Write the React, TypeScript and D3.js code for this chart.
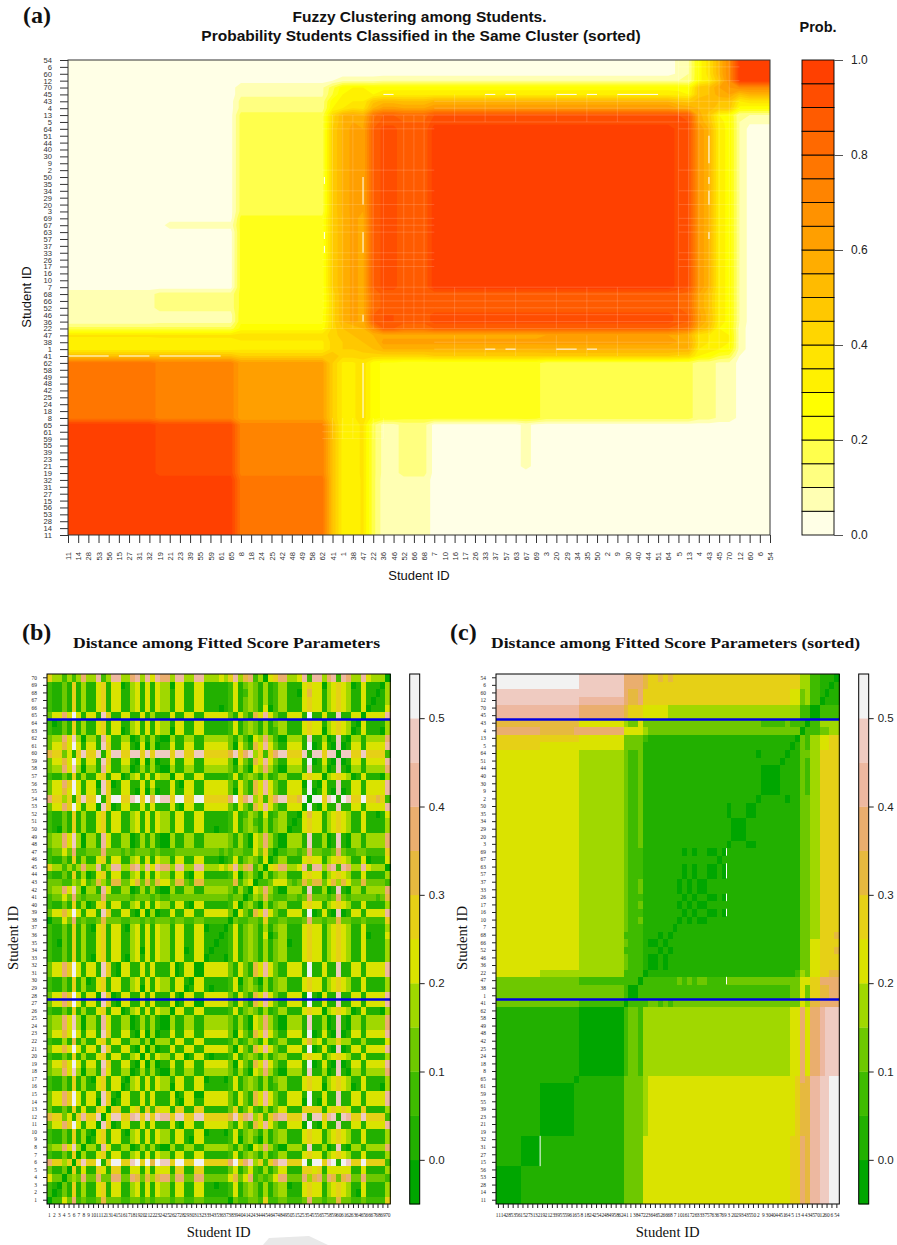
import React, { useRef, useEffect } from "react";
import * as d3 from "d3";

// students in the sorted order used by panels (a) and (c), bottom/left first
const sortedIds = [
  11, 14, 28, 53, 56, 15, 27, 31, 32, 19, 21, 23, 39, 55, 59, 61, 65, 8, 18, 24, 25, 42, 48, 49, 58, 62, 41, 1, 38, 47,
  22, 36, 46, 52, 66, 68, 7, 10, 16, 17, 26, 33, 37, 57, 63, 67, 69, 3, 20, 29, 34, 35, 50, 2, 9, 30, 40, 44, 51, 64,
  5, 13, 4, 43, 45, 70, 12, 60, 6, 54,
];

// panel (a): students with the same profile, as run lengths along sortedIds
const probBandSizes = [9, 8, 9, 1, 1, 1, 1, 1, 2, 3, 11, 13, 1, 1, 1, 1, 1, 1, 1, 3];
// probability of the same cluster, lower triangle of the band table
const probBands = [
  [0.99],
  [0.98, 0.93],
  [0.78, 0.73, 0.62],
  [0.5, 0.5, 0.45, 0.5],
  [0.33, 0.33, 0.34, 0.42, 0.45],
  [0.32, 0.33, 0.34, 0.42, 0.45, 0.48],
  [0.36, 0.36, 0.38, 0.42, 0.48, 0.5, 0.5],
  [0.17, 0.17, 0.27, 0.42, 0.5, 0.5, 0.55, 0.7],
  [0.07, 0.08, 0.24, 0.42, 0.55, 0.62, 0.58, 0.85, 0.9],
  [0.08, 0.12, 0.22, 0.42, 0.55, 0.62, 0.58, 0.8, 0.87, 0.85],
  [0.03, 0.03, 0.22, 0.45, 0.55, 0.62, 0.58, 0.85, 0.92, 0.86, 0.98],
  [0.03, 0.03, 0.17, 0.45, 0.56, 0.62, 0.6, 0.85, 0.92, 0.86, 0.98, 0.98],
  [0.03, 0.03, 0.17, 0.43, 0.55, 0.6, 0.58, 0.8, 0.88, 0.85, 0.93, 0.93, 0.93],
  [0.03, 0.03, 0.17, 0.42, 0.55, 0.58, 0.55, 0.78, 0.85, 0.82, 0.9, 0.9, 0.9, 0.88],
  [0.03, 0.03, 0.12, 0.3, 0.35, 0.4, 0.38, 0.55, 0.62, 0.6, 0.65, 0.65, 0.6, 0.58, 0.55],
  [0.03, 0.03, 0.12, 0.28, 0.32, 0.35, 0.35, 0.48, 0.52, 0.5, 0.55, 0.55, 0.5, 0.48, 0.52, 0.52],
  [0.02, 0.02, 0.09, 0.2, 0.3, 0.32, 0.32, 0.3, 0.33, 0.33, 0.33, 0.33, 0.32, 0.3, 0.48, 0.5, 0.58],
  [0.02, 0.02, 0.09, 0.18, 0.28, 0.3, 0.3, 0.28, 0.28, 0.28, 0.28, 0.28, 0.28, 0.27, 0.48, 0.5, 0.6, 0.65],
  [0.02, 0.02, 0.03, 0.05, 0.08, 0.08, 0.08, 0.08, 0.1, 0.1, 0.1, 0.1, 0.1, 0.1, 0.28, 0.35, 0.5, 0.7, 0.98],
  [0.02, 0.02, 0.02, 0.03, 0.03, 0.03, 0.03, 0.03, 0.03, 0.03, 0.03, 0.03, 0.06, 0.1, 0.27, 0.38, 0.55, 0.7, 0.98, 0.99],
];
// the odd pale patch at student 67 against students 21..65
const probPatch = { student: 67, others: [21, 23, 39, 55, 59, 61, 65], value: 0.07 };
// gaps in the contour fill: [row, from column, to column] and [column, from row, to row]
const gapRows = [
  [26, 0, 4], [26, 5, 8], [26, 9, 15],
  [64, 31, 32], [64, 41, 42], [64, 43, 44], [64, 48, 50], [64, 51, 52], [64, 54, 58],
  [27, 41, 42], [27, 43, 44], [27, 48, 50], [27, 51, 52],
];
const gapCols = [
  [25.2, 51, 52], [25.2, 43, 44], [25.2, 41, 42],
  [29, 48, 52], [29, 41, 44], [29, 31, 32], [29, 17, 25],
  [63, 54, 58], [63, 51, 52], [63, 48, 50], [63, 43, 44],
];
// faint seams: [from column, to column, from row, to row]
const seamBlocks = [
  [25, 36, 30, 61], [60, 66, 27, 69], [36, 60, 30, 36], [36, 60, 60, 64], [25, 31, 14, 17], [36, 60, 26, 29],
];
const seamRows = [14, 15, 16, 27, 28, 30, 31, 32, 33, 34, 35, 36, 39, 40, 41, 44, 45, 46, 48, 50, 53, 59, 60, 61, 62, 63, 66, 68];
const seamCols = [26, 27, 28, 30, 31, 33, 34, 35, 38, 41, 44, 48, 51, 54, 60, 61, 62, 63, 64, 65];

const probLevels = d3.range(0, 21).map((d) => d / 20);
const probTicks = [0, 0.2, 0.4, 0.6, 0.8, 1];
const probColors = [
  "#ffffe6", "#ffffb3", "#ffff80", "#ffff4c", "#ffff19", "#ffff00", "#fff100", "#ffe400", "#ffd600", "#ffc800",
  "#ffbb00", "#ffad00", "#ff9f00", "#ff9200", "#ff8400", "#ff7600", "#ff6900", "#ff5b00", "#ff4d00", "#ff4000",
];

// panels (b) and (c): distance between fitted score parameters
const distBandSizes = [5, 4, 7, 1, 9, 1, 2, 1, 1, 5, 11, 13, 1, 1, 1, 1, 2, 1, 1, 2];
const distBands = [
  [0.03],
  [0.03, 0.03],
  [0.03, 0.03, 0.03],
  [0.03, 0.03, 0.03, 0.03],
  [0.03, 0.03, 0.03, 0.03, 0.03],
  [0.12, 0.12, 0.12, 0.12, 0.07, 0.03],
  [0.12, 0.12, 0.12, 0.12, 0.12, 0.07, 0.03],
  [0.12, 0.12, 0.12, 0.12, 0.07, 0.07, 0.07, 0.03],
  [0.22, 0.22, 0.18, 0.18, 0.18, 0.07, 0.07, 0.07, 0.03],
  [0.22, 0.22, 0.22, 0.22, 0.18, 0.12, 0.07, 0.07, 0.03, 0.03],
  [0.22, 0.22, 0.22, 0.22, 0.18, 0.12, 0.07, 0.07, 0.03, 0.03, 0.03],
  [0.22, 0.22, 0.22, 0.22, 0.18, 0.12, 0.07, 0.12, 0.03, 0.03, 0.03, 0.03],
  [0.28, 0.28, 0.22, 0.22, 0.22, 0.12, 0.12, 0.12, 0.03, 0.03, 0.03, 0.03, 0.03],
  [0.28, 0.28, 0.28, 0.28, 0.22, 0.12, 0.12, 0.12, 0.07, 0.03, 0.03, 0.03, 0.03, 0.03],
  [0.38, 0.38, 0.32, 0.38, 0.38, 0.22, 0.22, 0.22, 0.18, 0.12, 0.12, 0.12, 0.12, 0.12, 0.03],
  [0.32, 0.32, 0.32, 0.32, 0.22, 0.18, 0.12, 0.22, 0.12, 0.12, 0.12, 0.12, 0.07, 0.07, 0.07, 0.03],
  [0.42, 0.42, 0.42, 0.42, 0.38, 0.32, 0.28, 0.28, 0.22, 0.22, 0.18, 0.18, 0.18, 0.18, 0.07, 0.07, 0.03],
  [0.48, 0.48, 0.48, 0.48, 0.42, 0.38, 0.32, 0.38, 0.28, 0.28, 0.28, 0.28, 0.22, 0.22, 0.12, 0.18, 0.07, 0.03],
  [0.48, 0.48, 0.48, 0.48, 0.48, 0.38, 0.32, 0.38, 0.28, 0.28, 0.28, 0.28, 0.22, 0.22, 0.12, 0.18, 0.07, 0.03, 0.03],
  [0.52, 0.52, 0.52, 0.52, 0.48, 0.38, 0.38, 0.38, 0.32, 0.28, 0.28, 0.28, 0.28, 0.28, 0.18, 0.18, 0.07, 0.03, 0.03, 0.03],
];
// students whose mutual distance falls below zero
const nearGroups = [
  [11, 14, 28, 53, 56], [15, 27, 31, 32], [19, 21, 23, 39, 55, 59, 61], [65], [8, 18, 24, 25, 42, 48, 49, 58, 62],
  [41], [1, 38], [47], [22], [36, 46, 66], [52, 68], [7], [10, 17, 33, 37], [16, 26, 57, 63, 69], [67],
  [3, 35, 50], [20, 29, 34], [2, 64], [9, 30, 40, 44], [51], [5], [13], [4], [43], [45, 70], [12], [60], [6], [54],
];
// single pairs that differ from their band: [student, others, value]
const distExceptions = [
  [54, [52, 68], 0.32],
  [41, [52, 68], 0.07],
  [47, [10, 17, 33, 37], 0.12],
  [43, [9, 30, 40, 44, 51], 0.07],
  [68, [45, 70], 0.18],
];
// white gaps in panel (c): [column edge, from row, to row]
const distGaps = [[9, 5, 8], [47, 46, 46], [47, 43, 44], [47, 40, 40], [47, 38, 38], [47, 29, 29]];
// rows between which the blue separators are drawn
const blueRows = [27, 64];

const distTicks = [0, 0.1, 0.2, 0.3, 0.4, 0.5];
const distLevels = d3.range(0, 13).map((d) => -0.05 + d * 0.05);
const distColors = [
  "#00a600", "#22b000", "#3fbb00", "#6ec800", "#a0d800", "#dae300",
  "#e6d016", "#e6b93f", "#eaae6e", "#edb8a0", "#efcbc1", "#f2f2f2",
];

const SANS = "'Liberation Sans', Arial, sans-serif";
const SERIF = "'Liberation Serif', serif";

const expandBands = (sizes) => sizes.flatMap((n, b) => d3.range(n).map(() => b));
const lookup = (table, a, b) => (a >= b ? table[a][b] : table[b][a]);

function buildProb() {
  const band = expandBands(probBandSizes);
  const m = sortedIds.map((_, r) => sortedIds.map((_, c) => lookup(probBands, band[r], band[c])));
  const s = sortedIds.indexOf(probPatch.student);
  probPatch.others.forEach((id) => {
    const o = sortedIds.indexOf(id);
    m[s][o] = m[o][s] = probPatch.value;
  });
  return m;
}

function buildDist() {
  const band = expandBands(distBandSizes);
  const m = sortedIds.map((_, r) => sortedIds.map((_, c) => lookup(distBands, band[r], band[c])));
  const pos = (id) => sortedIds.indexOf(id);
  nearGroups.forEach((g) => g.forEach((a) => g.forEach((b) => (m[pos(a)][pos(b)] = -0.02))));
  distExceptions.forEach(([id, others, v]) =>
    others.forEach((o) => {
      m[pos(id)][pos(o)] = m[pos(o)][pos(id)] = v;
    })
  );
  return m;
}

function styleAxis(g, size, family, color = "#222") {
  g.select(".domain").remove();
  g.selectAll("line").attr("stroke", color).attr("stroke-width", 1);
  g.selectAll("text").attr("font-size", size).attr("font-family", family).attr("fill", color);
}

function drawPanelA(svg) {
  const [x0, x1, y0, y1] = [68, 770, 535, 60];
  const gx = d3.scaleLinear().domain([0, 69]).range([x0, x1]);
  const gy = d3.scaleLinear().domain([0, 69]).range([y0, y1]);
  const matrix = buildProb();
  const flat = matrix.flat();
  const contours = d3.contours().size([70, 70]).thresholds(probLevels.slice(1, 20))(flat);
  const path = d3.geoPath(
    d3.geoTransform({
      point(x, y) {
        this.stream.point(gx(x - 0.5), gy(y - 0.5));
      },
    })
  );

  svg.append("clipPath").attr("id", "clipA").append("rect")
    .attr("x", x0).attr("y", y1).attr("width", x1 - x0).attr("height", y0 - y1);
  const plot = svg.append("g").attr("clip-path", "url(#clipA)");
  plot.append("rect").attr("x", x0).attr("y", y1).attr("width", x1 - x0).attr("height", y0 - y1).attr("fill", probColors[0]);
  plot.selectAll("path.band").data(contours).enter().append("path")
    .attr("class", "band")
    .attr("d", path)
    .attr("fill-rule", "evenodd")
    .attr("fill", (d, i) => probColors[i + 1]);

  // faint seams left by the contour polygons
  const seams = plot.append("g").attr("stroke", "#fff").attr("stroke-opacity", 0.28).attr("stroke-width", 0.6);
  seamBlocks.forEach(([c0, c1, r0, r1]) => {
    seamRows.filter((r) => r >= r0 && r <= r1).forEach((r) =>
      seams.append("line").attr("x1", gx(c0)).attr("x2", gx(c1)).attr("y1", gy(r)).attr("y2", gy(r))
    );
    seamCols.filter((c) => c >= c0 && c <= c1).forEach((c) =>
      seams.append("line").attr("x1", gx(c)).attr("x2", gx(c)).attr("y1", gy(r0)).attr("y2", gy(r1))
    );
  });
  const gaps = plot.append("g").attr("stroke", "#fff").attr("stroke-width", 1);
  gapRows.forEach(([r, c0, c1]) =>
    gaps.append("line").attr("x1", gx(c0)).attr("x2", gx(c1)).attr("y1", gy(r)).attr("y2", gy(r))
  );
  gapCols.forEach(([c, r0, r1]) =>
    gaps.append("line").attr("x1", gx(c)).attr("x2", gx(c)).attr("y1", gy(r0)).attr("y2", gy(r1))
  );

  svg.append("rect").attr("x", x0).attr("y", y1).attr("width", x1 - x0).attr("height", y0 - y1)
    .attr("fill", "none").attr("stroke", "#333").attr("stroke-width", 1);

  const px = d3.scalePoint().domain(sortedIds).range([x0, x1]);
  const py = d3.scalePoint().domain(sortedIds).range([y0, y1]);
  const ax = svg.append("g").attr("transform", `translate(0,${y0})`).call(d3.axisBottom(px).tickSize(8).tickPadding(5));
  styleAxis(ax, 7.6, SANS, "#333");
  ax.selectAll("text")
    .attr("transform", "rotate(-90)")
    .attr("text-anchor", "end")
    .attr("x", -17)
    .attr("y", 0)
    .attr("dy", "0.34em");
  const ay = svg.append("g").attr("transform", `translate(${x0},0)`).call(d3.axisLeft(py).tickSize(8).tickPadding(8));
  styleAxis(ay, 7.6, SANS, "#333");

  // colour key
  const key = d3.scaleLinear().domain([0, 1]).range([y0, y1]);
  const kx = 802;
  const kw = 32;
  svg.selectAll("rect.keyA").data(probColors).enter().append("rect")
    .attr("class", "keyA")
    .attr("x", kx).attr("width", kw)
    .attr("y", (d, i) => key(probLevels[i + 1]))
    .attr("height", (d, i) => key(probLevels[i]) - key(probLevels[i + 1]))
    .attr("fill", (d) => d)
    .attr("stroke", "#000").attr("stroke-width", 0.9);
  const ak = svg.append("g").attr("transform", `translate(${kx + kw},0)`)
    .call(d3.axisRight(key).tickValues(probTicks).tickFormat(d3.format(".1f")).tickSize(9).tickPadding(8));
  styleAxis(ak, 12, SANS, "#222");
  ak.selectAll("line").attr("stroke", "#555");

  const title = (t, x, y, size, anchor = "middle", weight = "bold") =>
    svg.append("text").text(t).attr("x", x).attr("y", y).attr("font-family", SANS)
      .attr("font-size", size).attr("font-weight", weight).attr("text-anchor", anchor).attr("fill", "#111");
  title("Fuzzy Clustering among Students.", 419.5, 22, 15.5);
  title("Probability Students Classified in the Same Cluster (sorted)", 421, 41, 15.5);
  title("Prob.", 818, 32, 14.5);
  title("Student ID", 419, 580, 13, "middle", "normal");
  svg.append("text").text("Student ID").attr("transform", "translate(31,297) rotate(-90)")
    .attr("text-anchor", "middle").attr("font-family", SANS).attr("font-size", 13).attr("fill", "#111");
}

function drawHeat(svg, opt) {
  const { x0, x1, ids, matrix, keyX, gaps, name } = opt;
  const [y0, y1] = [1204, 674];
  const bx = d3.scaleBand().domain(ids).range([x0, x1]);
  const by = d3.scaleBand().domain(ids).range([y0, y1]);
  const rows = d3.scaleLinear().domain([0, 70]).range([y0, y1]);
  const cols = d3.scaleLinear().domain([0, 70]).range([x0, x1]);
  const color = d3.scaleThreshold().domain(distLevels.slice(1, 12)).range(distColors);

  const cells = [];
  ids.forEach((rowId) => ids.forEach((colId) => cells.push({ rowId, colId, v: matrix(rowId, colId) })));
  svg.append("g").attr("shape-rendering", "crispEdges")
    .selectAll("rect").data(cells).enter().append("rect")
    .attr("x", (d) => bx(d.colId))
    .attr("y", (d) => by(d.rowId))
    .attr("width", bx.bandwidth() + 0.3)
    .attr("height", by.bandwidth() + 0.3)
    .attr("fill", (d) => color(d.v));

  gaps.forEach(([c, r0, r1]) =>
    svg.append("line").attr("x1", cols(c)).attr("x2", cols(c)).attr("y1", rows(r0)).attr("y2", rows(r1 + 1))
      .attr("stroke", "#fff").attr("stroke-width", 1)
  );
  blueRows.forEach((r) =>
    svg.append("line").attr("x1", x0).attr("x2", x1).attr("y1", rows(r)).attr("y2", rows(r))
      .attr("stroke", "#0000e0").attr("stroke-width", 2.6)
  );
  svg.append("rect").attr("x", x0).attr("y", y1).attr("width", x1 - x0).attr("height", y0 - y1)
    .attr("fill", "none").attr("stroke", "#000").attr("stroke-width", 1);

  const ax = svg.append("g").attr("transform", `translate(0,${y0})`).call(d3.axisBottom(bx).tickSize(4).tickPadding(5));
  styleAxis(ax, 5.4, SERIF, "#222");
  const ay = svg.append("g").attr("transform", `translate(${x0},0)`).call(d3.axisLeft(by).tickSize(4).tickPadding(6));
  styleAxis(ay, 5.4, SERIF, "#222");

  const key = d3.scaleLinear().domain([-0.05, 0.55]).range([y0, y1]);
  const kw = 10;
  svg.selectAll(`rect.key${name}`).data(distColors).enter().append("rect")
    .attr("class", `key${name}`)
    .attr("x", keyX).attr("width", kw)
    .attr("y", (d, i) => key(distLevels[i + 1]))
    .attr("height", (d, i) => key(distLevels[i]) - key(distLevels[i + 1]) + 0.3)
    .attr("fill", (d) => d);
  svg.append("rect").attr("x", keyX).attr("y", y1).attr("width", kw).attr("height", y0 - y1)
    .attr("fill", "none").attr("stroke", "#000").attr("stroke-width", 1);
  const ak = svg.append("g").attr("transform", `translate(${keyX + kw},0)`)
    .call(d3.axisRight(key).tickValues(distTicks).tickFormat(d3.format(".1f")).tickSize(5).tickPadding(4));
  styleAxis(ak, 11.5, SANS, "#222");

  const mid = (x0 + x1) / 2;
  svg.append("text").text(opt.title).attr("x", opt.titleX).attr("y", 648)
    .attr("font-family", SERIF).attr("font-weight", "bold").attr("font-size", 15.5)
    .attr("textLength", opt.titleW).attr("lengthAdjust", "spacingAndGlyphs").attr("fill", "#111");
  svg.append("text").text("Student ID").attr("x", mid).attr("y", 1237)
    .attr("text-anchor", "middle").attr("font-family", SERIF).attr("font-size", 14.5)
    .attr("textLength", 64).attr("lengthAdjust", "spacingAndGlyphs").attr("fill", "#111");
  svg.append("text").text("Student ID").attr("transform", `translate(${x0 - 29},938) rotate(-90)`)
    .attr("text-anchor", "middle").attr("font-family", SERIF).attr("font-size", 14.5)
    .attr("textLength", 64).attr("lengthAdjust", "spacingAndGlyphs").attr("fill", "#111");
  svg.append("text").text(opt.letter).attr("x", opt.letterX).attr("y", 640)
    .attr("font-family", SERIF).attr("font-weight", "bold").attr("font-size", 24).attr("fill", "#111");
}

const App = () => {
  const svgRef = useRef(null);

  useEffect(() => {
    const svg = d3.select(svgRef.current);
    svg.selectAll("*").remove();
    svg.append("rect").attr("width", 897).attr("height", 1245).attr("fill", "#fff");
    svg.append("path").attr("d", "M263,1245L269,1238L309,1236L328,1245Z").attr("fill", "#e9e9e9");

    svg.append("text").text("(a)").attr("x", 23).attr("y", 23)
      .attr("font-family", SERIF).attr("font-weight", "bold").attr("font-size", 24).attr("fill", "#111");
    drawPanelA(svg);

    const dist = buildDist();
    const pos = new Map(sortedIds.map((id, i) => [id, i]));
    const byPosition = (r, c) => dist[pos.get(r)][pos.get(c)];
    const plainIds = d3.range(1, 71);

    drawHeat(svg, {
      name: "B", x0: 47, x1: 390.3, ids: plainIds, matrix: byPosition, keyX: 409.7, gaps: [],
      title: "Distance among Fitted Score Parameters", titleX: 73, titleW: 307, letter: "(b)", letterX: 22,
    });
    drawHeat(svg, {
      name: "C", x0: 496, x1: 839.3, ids: sortedIds, matrix: byPosition, keyX: 858.7, gaps: distGaps,
      title: "Distance among Fitted Score Parameters (sorted)", titleX: 491, titleW: 369, letter: "(c)", letterX: 450,
    });
  }, []);

  return (
    <svg
      ref={svgRef}
      width={897}
      height={1245}
      style={{ position: "absolute", left: 0, top: 0, display: "block" }}
    ></svg>
  );
};

export default App;
